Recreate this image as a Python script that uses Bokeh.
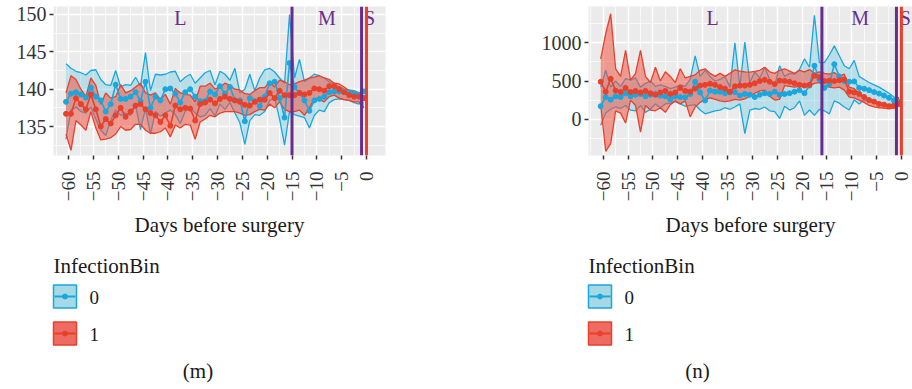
import math
from bokeh.plotting import figure
from bokeh.models import FixedTicker, Span, Range1d
from bokeh.layouts import row, column
from bokeh.embed import file_html
from bokeh.resources import INLINE
from bokeh.core.properties import value

# ---------------- data ----------------
DAYS = [-60.5, -59.5, -58.5, -57.5, -56.5, -55.5, -54.5, -53.5, -52.5, -51.5,
        -50.5, -49.5, -48.5, -47.5, -46.5, -45.5, -44.5, -43.5, -42.5, -41.5,
        -40.5, -39.5, -38.5, -37.5, -36.5, -35.5, -34.5, -33.5, -32.5, -31.5,
        -30.5, -29.5, -28.5, -27.5, -26.5, -25.5, -24.5, -23.5, -22.5, -21.5,
        -20.5, -19.5, -18.5, -17.5, -16.5, -15.5, -14.5, -13.5, -12.5, -11.5,
        -10.5, -9.5, -8.5, -7.5, -6.5, -5.5, -4.5, -3.5, -2.5, -1.5,
        -0.5]

XTICKS = [-60, -55, -50, -45, -40, -35, -30, -25, -20, -15, -10, -5, 0]
XTICK_LABELS = ["\u221260", "\u221255", "\u221250", "\u221245", "\u221240", "\u221235",
                "\u221230", "\u221225", "\u221220", "\u221215", "\u221210", "\u22125", "0"]
PHASES = ["L", "M", "S"]
LEGEND_TITLE = "InfectionBin"
GROUPS = ["0", "1"]

# panel (m)
M_YTICKS = [135, 140, 145, 150]
M_PHASE_LINES = [-15, -1]
M_PHASE_X = [-37.5, -8.0, 0.6]
M_MEAN_0 = [138.3, 139.4, 139.6, 139.3, 138.9, 140.2, 139.0, 138.5, 137.0, 138.0,
            140.6, 138.7, 138.7, 139.0, 139.6, 138.4, 141.0, 137.5, 139.0, 138.5,
            140.0, 140.1, 139.4, 138.2, 139.6, 140.0, 139.0, 138.4, 138.4, 139.7,
            139.3, 140.4, 139.4, 140.3, 138.5, 138.5, 135.7, 138.8, 138.4, 137.7,
            139.0, 140.8, 141.0, 138.8, 136.2, 143.5, 140.3, 139.5, 138.5, 137.1,
            138.5, 138.7, 139.0, 139.6, 139.7, 139.7, 139.6, 139.5, 139.3, 139.2,
            139.7]
M_UP_0 = [143.4, 142.8, 142.4, 142.2, 141.9, 142.5, 142.6, 141.3, 140.6, 140.5,
          142.5, 140.3, 140.6, 140.5, 141.6, 140.4, 144.9, 139.8, 142.0, 141.9,
          142.0, 142.3, 142.4, 141.0, 141.6, 142.0, 140.8, 141.5, 142.2, 142.5,
          140.6, 142.4, 142.0, 141.2, 142.8, 139.5, 140.0, 142.0, 139.8, 141.5,
          142.6, 142.8, 142.3, 141.5, 140.8, 150.0, 141.5, 144.0, 141.0, 141.5,
          142.0, 141.8, 141.5, 141.0, 140.6, 140.3, 140.0, 139.9, 139.8, 139.5,
          140.0]
M_LO_0 = [133.3, 137.2, 137.6, 137.0, 136.8, 137.6, 136.0, 134.5, 133.8, 135.8,
          137.2, 136.5, 136.8, 136.5, 137.8, 134.6, 137.4, 134.0, 137.0, 136.4,
          136.8, 137.2, 136.6, 135.4, 137.0, 137.5, 136.8, 136.3, 136.5, 137.4,
          136.4, 138.0, 137.3, 138.2, 136.8, 135.5, 132.6, 135.8, 136.6, 136.5,
          137.0, 138.5, 138.8, 136.0, 132.5, 137.0, 136.6, 136.4, 136.2, 134.8,
          136.5, 137.2, 137.0, 138.2, 138.6, 138.7, 138.6, 138.5, 138.2, 138.0,
          139.2]
M_MEAN_1 = [136.7, 136.7, 138.8, 138.0, 137.3, 139.3, 137.3, 135.0, 136.0, 135.4,
            136.5, 137.5, 136.3, 137.0, 137.8, 138.0, 137.3, 136.8, 136.5, 135.6,
            136.5, 135.1, 137.8, 137.3, 137.5, 137.4, 135.8, 138.0, 138.2, 138.6,
            138.1, 138.7, 139.0, 138.7, 138.5, 138.3, 137.9, 137.8, 138.3, 138.6,
            138.6, 139.5, 138.8, 139.8, 139.2, 139.2, 139.2, 139.5, 139.3, 139.5,
            140.1, 140.0, 139.8, 140.4, 140.4, 140.0, 139.6, 139.2, 139.0, 139.0,
            138.8]
M_UP_1 = [139.5, 141.8, 141.3, 140.0, 139.0, 141.5, 140.5, 138.0, 139.5, 138.8,
          139.0, 140.6, 139.5, 139.8, 140.3, 140.8, 139.5, 139.2, 139.5, 138.6,
          139.3, 138.0, 140.1, 139.5, 139.3, 139.2, 138.3, 140.4, 140.4, 140.8,
          140.0, 140.3, 140.8, 140.5, 140.0, 139.9, 139.4, 139.3, 139.8, 140.2,
          140.2, 141.0, 140.3, 141.2, 141.0, 140.6, 140.7, 141.0, 141.2, 141.5,
          141.6, 141.8, 141.5, 141.3, 140.8, 140.7, 140.3, 139.8, 139.6, 139.4,
          139.0]
M_LO_1 = [134.0, 131.8, 135.8, 135.2, 134.5, 137.0, 134.8, 133.2, 133.3, 133.5,
          134.0, 135.0, 134.5, 134.6, 135.3, 135.3, 134.5, 134.1, 134.1, 134.3,
          134.8, 133.6, 135.2, 134.8, 135.3, 135.2, 133.3, 135.6, 136.0, 136.5,
          136.3, 136.8, 137.0, 137.0, 137.0, 136.8, 136.5, 136.6, 137.0, 137.3,
          137.2, 138.0, 137.5, 138.3, 137.3, 137.0, 137.0, 137.2, 136.5, 137.5,
          138.7, 138.6, 138.3, 139.0, 139.2, 138.8, 138.6, 138.5, 138.3, 138.3,
          137.5]

# panel (n)
N_YTICKS = [0, 500, 1000]
N_PHASE_LINES = [-16, -1]
N_PHASE_X = [-38.0, -8.3, 0.8]
N_MEAN_0 = [170, 290, 255, 300, 290, 340, 300, 320, 330, 300,
            320, 330, 310, 300, 260, 300, 290, 285, 330, 490,
            350, 245, 375, 360, 360, 340, 350, 355, 310, 330,
            320, 290, 320, 340, 330, 360, 320, 330, 340, 360,
            380, 340, 440, 700, 520, 410, 460, 720, 560, 500,
            490, 495, 410, 400, 380, 355, 335, 310, 280, 245,
            230]
N_UP_0 = [420, 640, 420, 500, 430, 530, 510, 540, 420, 470,
          500, 430, 450, 430, 400, 420, 450, 430, 520, 830,
          560, 640, 560, 500, 520, 560, 420, 1000, 420, 1010,
          480, 620, 540, 680, 520, 440, 700, 560, 600, 590,
          650, 790, 680, 1360, 740, 740, 840, 960, 830, 700,
          660, 770, 560, 520, 480, 450, 420, 380, 340, 290,
          250]
N_LO_0 = [-80, 80, 130, 160, 140, 180, 120, 110, 180, 90,
          130, 200, 150, 200, 210, 230, 200, 170, 180, 190,
          120, 70, 90, 110, 120, 150, 130, 160, 200, -190,
          120, 140, 130, 160, 110, 100, 10, 170, 120, 150,
          240, 50, 120, 50, 130, 110, 70, 240, 210, 160,
          120, 250, 200, 250, 230, 220, 210, 200, 190, 200,
          210]
N_MEAN_1 = [490, 360, 530, 375, 355, 410, 355, 370, 350, 370,
            340, 320, 350, 370, 330, 350, 410, 370, 360, 400,
            440, 450, 465, 450, 420, 400, 360, 430, 440, 440,
            450, 470, 500, 515, 490, 460, 505, 500, 490, 470,
            450, 440, 450, 570, 550, 500, 505, 500, 510, 520,
            360, 350, 330, 290, 250, 230, 200, 190, 170, 175,
            200]
N_UP_1 = [790, 1120, 1380, 660, 560, 900, 510, 600, 900, 560,
          480, 680, 500, 620, 560, 480, 660, 540, 560, 580,
          640, 660, 600, 560, 600, 560, 600, 646, 630, 620,
          615, 625, 640, 680, 620, 600, 640, 660, 630, 600,
          640, 620, 650, 600, 620, 600, 590, 610, 560, 590,
          420, 400, 340, 300, 265, 240, 215, 200, 180, 200,
          290]
N_LO_1 = [180, -420, -320, 110, 80, -50, 250, 180, -170, 180,
          120, 110, 150, 90, 190, 240, 200, 240, 30, 160,
          220, 260, 280, 260, 240, 230, 240, 260, 250, 265,
          300, 340, 370, 380, 300, 250, 260, 440, 430, 420,
          430, 420, 440, 470, 480, 430, 420, 410, 420, 380,
          290, 280, 250, 220, 180, 160, 150, 145, 135, 150,
          180]

# ---------------- style ----------------
FONT = "Liberation Serif"
BLUE = "#1AA7DE"
BLUE_FILL = "#7FCFE3"
BLUE_KEY = "#A6D9E6"
RED = "#E8402B"
RED_FILL = "#F05545"
RED_KEY = "#EE6B62"
PURPLE = "#662D91"
PANEL_BG = "#EBEBEB"
TEXT = "#1A1A1A"
TICK_TEXT = "#333333"

TOP_H = 240
BOTTOM_H = 149
FRAME_TOP = 6
FRAME_H = 149


def make_panel(width, b_left, b_right, x_range, y_range, yticks, series,
               phase_lines, phase_x):
    p = figure(width=width, height=TOP_H, x_range=x_range, y_range=y_range,
               output_backend="svg", toolbar_location=None,
               min_border_left=b_left, min_border_right=b_right,
               min_border_top=FRAME_TOP, min_border_bottom=TOP_H - FRAME_TOP - FRAME_H,
               background_fill_color=PANEL_BG, border_fill_color="white",
               outline_line_color=None)

    step = yticks[1] - yticks[0]
    p.xaxis.ticker = FixedTicker(ticks=XTICKS, minor_ticks=[t - 2.5 for t in XTICKS])
    p.yaxis.ticker = FixedTicker(ticks=yticks,
                                 minor_ticks=[t - step / 2 for t in yticks] + [yticks[-1] + step / 2])
    p.xaxis.major_label_overrides = {float(t): s for t, s in zip(XTICKS, XTICK_LABELS)}
    p.xaxis.major_label_orientation = math.pi / 2
    p.xaxis.axis_label = "Days before surgery"

    p.grid.grid_line_color = "white"
    p.grid.grid_line_width = 1.5
    p.grid.minor_grid_line_color = "white"
    p.grid.minor_grid_line_width = 0.7

    p.axis.axis_line_color = None
    p.axis.major_tick_line_color = TICK_TEXT
    p.axis.major_tick_line_width = 1.5
    p.axis.major_tick_out = 4
    p.axis.major_tick_in = 0
    p.axis.minor_tick_line_color = None
    p.axis.major_label_text_font = FONT
    p.axis.major_label_text_color = TICK_TEXT
    p.xaxis.major_label_text_font_size = "19px"
    p.yaxis.major_label_text_font_size = "20px"
    p.xaxis.major_label_standoff = 12
    p.yaxis.major_label_standoff = 3
    p.xaxis.axis_label_text_font = FONT
    p.xaxis.axis_label_text_font_size = "21px"
    p.xaxis.axis_label_text_font_style = "normal"
    p.xaxis.axis_label_text_color = TEXT
    p.xaxis.axis_label_standoff = 9

    for mean, up, lo, col, fill, alpha in series:
        p.varea(x=DAYS, y1=lo, y2=up, fill_color=fill, fill_alpha=alpha)
        p.line(DAYS, up, line_color=col, line_width=1.3)
        p.line(DAYS, lo, line_color=col, line_width=1.3)
    for mean, up, lo, col, fill, alpha in series:
        p.line(DAYS, mean, line_color=col, line_width=1.6)
        p.scatter(DAYS, mean, size=5, color=col)

    for loc in phase_lines:
        p.add_layout(Span(location=loc, dimension="height", line_color=PURPLE, line_width=3))
    p.add_layout(Span(location=0, dimension="height", line_color=RED, line_width=3))

    p.text(x=phase_x, y=[y_range[1]] * len(PHASES), text=PHASES,
           text_font=value(FONT), text_font_size="20px", text_color=PURPLE,
           text_align="center", text_baseline="middle", y_offset=11)
    return p


def make_legend_panel(width, left, caption, caption_x):
    # a blank canvas measured in pixels (y grows downwards) holding the legend
    q = figure(width=width, height=BOTTOM_H, x_range=Range1d(0, width),
               y_range=Range1d(BOTTOM_H, 0), output_backend="svg",
               toolbar_location=None, min_border=0, outline_line_color=None,
               background_fill_color="white", border_fill_color="white")
    q.axis.visible = False
    q.grid.visible = False
    key = 23
    key_tops = [44.5, 81.5]
    q.text(x=[left], y=[25.5], text=[LEGEND_TITLE], text_font=value(FONT),
           text_font_size="21px", text_color=TEXT, text_baseline="alphabetic")
    q.quad(left=[left] * 2, right=[left + key] * 2, top=key_tops,
           bottom=[t + key for t in key_tops], fill_color=[BLUE_KEY, RED_KEY],
           line_color=[BLUE, RED], line_width=1.5)
    mids = [t + key / 2 for t in key_tops]
    q.segment(x0=[left + 1] * 2, x1=[left + key - 1] * 2, y0=mids, y1=mids,
              line_color=[BLUE, RED], line_width=2)
    q.scatter(x=[left + key / 2] * 2, y=mids, size=5, color=[BLUE, RED])
    q.text(x=[left + 36] * 2, y=[t + 12 for t in key_tops], text=GROUPS,
           text_font=value(FONT), text_font_size="19px", text_color=TEXT,
           text_baseline="alphabetic")
    q.text(x=[caption_x], y=[130], text=[caption], text_font=value(FONT),
           text_font_size="21px", text_color=TEXT, text_align="center",
           text_baseline="alphabetic")
    return q


p1 = make_panel(520, 53, 135, (-63.02, 3.82), (131.12, 151.07), M_YTICKS,
                [(M_MEAN_0, M_UP_0, M_LO_0, BLUE, BLUE_FILL, 0.45),
                 (M_MEAN_1, M_UP_1, M_LO_1, RED, RED_FILL, 0.55)],
                M_PHASE_LINES, M_PHASE_X)
p2 = make_panel(392, 68, 0, (-62.96, 2.23), (-475, 1475), N_YTICKS,
                [(N_MEAN_0, N_UP_0, N_LO_0, BLUE, BLUE_FILL, 0.45),
                 (N_MEAN_1, N_UP_1, N_LO_1, RED, RED_FILL, 0.55)],
                N_PHASE_LINES, N_PHASE_X)
q1 = make_legend_panel(520, 53, "(m)", 197.5)
q2 = make_legend_panel(392, 68, "(n)", 177)

layout = column(row(p1, p2), row(q1, q2))
open("out.html", "w").write(file_html(layout, INLINE, "Chart"))
